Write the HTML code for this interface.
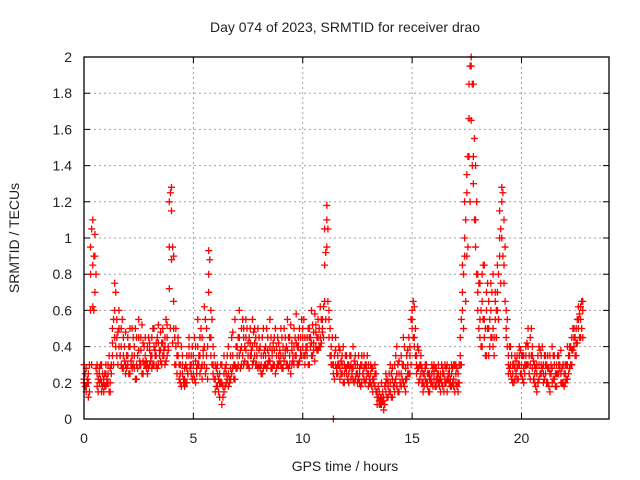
<!DOCTYPE html>
<html><head><meta charset="utf-8"><style>
html,body{margin:0;padding:0;background:#fff;}
svg{display:block;font-family:"Liberation Sans",sans-serif;}
</style></head><body>
<svg id="chart" width="640" height="480" viewBox="0 0 640 480" xmlns="http://www.w3.org/2000/svg">
<rect width="640" height="480" fill="#fff"/>
<text x="345" y="32" text-anchor="middle" font-size="14" fill="#222">Day 074 of 2023, SRMTID for receiver drao</text>
<text x="345" y="471" text-anchor="middle" font-size="14" fill="#222">GPS time / hours</text>
<text transform="translate(19,238) rotate(-90)" text-anchor="middle" font-size="14" fill="#222">SRMTID / TECUs</text>
<g id="grid"></g>
<g id="ticks"></g>
<g id="marks"></g>
<rect x="84" y="57" width="525" height="362" fill="none" stroke="#000" stroke-width="1.3"/>
</svg>
<script>
const xTicks=[0,5,10,15,20];
const yTicks=[0,0.2,0.4,0.6,0.8,1,1.2,1.4,1.6,1.8,2];
const yTickLabels=["0","0.2","0.4","0.6","0.8","1","1.2","1.4","1.6","1.8","2"];
const times=[
0,0.1,0.2,0.3,0.4,0.5,0.6,0.7,0.8,0.9,1,1.1,1.2,1.3,1.4,1.5,1.6,1.7,1.8,1.9,
2,2.1,2.2,2.3,2.4,2.5,2.6,2.7,2.8,2.9,3,3.1,3.2,3.3,3.4,3.5,3.6,3.7,3.8,3.9,
4,4.1,4.2,4.3,4.4,4.5,4.6,4.7,4.8,4.9,5,5.1,5.2,5.3,5.4,5.5,5.6,5.7,5.8,5.9,
6,6.1,6.2,6.3,6.4,6.5,6.6,6.7,6.8,6.9,7,7.1,7.2,7.3,7.4,7.5,7.6,7.7,7.8,7.9,
8,8.1,8.2,8.3,8.4,8.5,8.6,8.7,8.8,8.9,9,9.1,9.2,9.3,9.4,9.5,9.6,9.7,9.8,9.9,
10,10.1,10.2,10.3,10.4,10.5,10.6,10.7,10.8,10.9,11,11.1,11.2,11.3,11.4,11.5,11.6,11.7,11.8,11.9,
12,12.1,12.2,12.3,12.4,12.5,12.6,12.7,12.8,12.9,13,13.1,13.2,13.3,13.4,13.5,13.6,13.7,13.8,13.9,
14,14.1,14.2,14.3,14.4,14.5,14.6,14.7,14.8,14.9,15,15.1,15.2,15.3,15.4,15.5,15.6,15.7,15.8,15.9,
16,16.1,16.2,16.3,16.4,16.5,16.6,16.7,16.8,16.9,17,17.1,17.2,17.3,17.4,17.5,17.6,17.7,17.8,17.9,
18,18.1,18.2,18.3,18.4,18.5,18.6,18.7,18.8,18.9,19,19.1,19.2,19.3,19.4,19.5,19.6,19.7,19.8,19.9,
20,20.1,20.2,20.3,20.4,20.5,20.6,20.7,20.8,20.9,21,21.1,21.2,21.3,21.4,21.5,21.6,21.7,21.8,21.9,
22,22.1,22.2,22.3,22.4,22.5,22.6,22.7,22.8];
const times2=[
0.05,0.15,0.25,0.35,0.45,0.55,0.65,0.75,0.85,0.95,1.05,1.15,1.25,1.35,1.45,1.55,1.65,1.75,1.85,1.95,
2.05,2.15,2.25,2.35,2.45,2.55,2.65,2.75,2.85,2.95,3.05,3.15,3.25,3.35,3.45,3.55,3.65,3.75,3.85,3.95,
4.05,4.15,4.25,4.35,4.45,4.55,4.65,4.75,4.85,4.95,5.05,5.15,5.25,5.35,5.45,5.55,5.65,5.75,5.85,5.95,
6.05,6.15,6.25,6.35,6.45,6.55,6.65,6.75,6.85,6.95,7.05,7.15,7.25,7.35,7.45,7.55,7.65,7.75,7.85,7.95,
8.05,8.15,8.25,8.35,8.45,8.55,8.65,8.75,8.85,8.95,9.05,9.15,9.25,9.35,9.45,9.55,9.65,9.75,9.85,9.95,
10.05,10.15,10.25,10.35,10.45,10.55,10.65,10.75,10.85,10.95,11.05,11.15,11.25,11.35,11.45,11.55,11.65,11.75,11.85,11.95,
12.05,12.15,12.25,12.35,12.45,12.55,12.65,12.75,12.85,12.95,13.05,13.15,13.25,13.35,13.45,13.55,13.65,13.75,13.85,13.95,
14.05,14.15,14.25,14.35,14.45,14.55,14.65,14.75,14.85,14.95,15.05,15.15,15.25,15.35,15.45,15.55,15.65,15.75,15.85,15.95,
16.05,16.15,16.25,16.35,16.45,16.55,16.65,16.75,16.85,16.95,17.05,17.15,17.25,17.35,17.45,17.55,17.65,17.75,17.85,17.95,
18.05,18.15,18.25,18.35,18.45,18.55,18.65,18.75,18.85,18.95,19.05,19.15,19.25,19.35,19.45,19.55,19.65,19.75,19.85,19.95,
20.05,20.15,20.25,20.35,20.45,20.55,20.65,20.75,20.85,20.95,21.05,21.15,21.25,21.35,21.45,21.55,21.65,21.75,21.85,21.95,
22.05,22.15,22.25,22.35,22.45,22.55,22.65,22.75];
const srmtidA=[
0.22,0.18,0.25,0.95,1.10,1.02,0.30,0.20,0.15,0.22,0.18,0.25,0.20,0.35,0.45,0.55,0.40,0.50,0.35,0.30,
0.30,0.40,0.35,0.28,0.45,0.38,0.30,0.42,0.35,0.30,0.38,0.45,0.30,0.35,0.42,0.48,0.35,0.40,0.45,0.95,
1.28,0.65,0.40,0.35,0.30,0.25,0.22,0.28,0.35,0.30,0.25,0.32,0.40,0.35,0.45,0.30,0.28,0.93,0.60,0.40,
0.22,0.18,0.25,0.30,0.15,0.20,0.25,0.35,0.28,0.30,0.35,0.45,0.40,0.50,0.38,0.30,0.42,0.55,0.35,0.40,
0.30,0.35,0.28,0.40,0.45,0.32,0.38,0.30,0.35,0.42,0.35,0.40,0.45,0.38,0.30,0.42,0.50,0.35,0.40,0.45,
0.40,0.45,0.35,0.50,0.42,0.38,0.48,0.45,0.40,0.55,0.85,1.18,0.55,0.40,0.00,0.30,0.35,0.28,0.25,0.30,
0.25,0.30,0.22,0.28,0.35,0.25,0.20,0.30,0.28,0.22,0.25,0.20,0.28,0.18,0.15,0.10,0.08,0.12,0.15,0.20,
0.15,0.22,0.30,0.18,0.25,0.35,0.20,0.28,0.30,0.40,0.60,0.45,0.35,0.28,0.25,0.20,0.22,0.18,0.25,0.20,
0.22,0.28,0.20,0.25,0.18,0.22,0.30,0.20,0.25,0.22,0.20,0.25,0.45,0.70,0.90,1.35,1.66,2.00,1.85,1.40,
0.80,0.55,0.65,0.45,0.70,0.50,0.60,0.40,0.55,0.85,1.00,1.28,1.10,0.60,0.35,0.30,0.25,0.28,0.35,0.30,
0.25,0.35,0.40,0.30,0.45,0.28,0.20,0.25,0.30,0.35,0.30,0.25,0.20,0.35,0.28,0.22,0.30,0.35,0.25,0.20,
0.25,0.30,0.35,0.45,0.40,0.50,0.55,0.62,0.45];
const srmtidB=[
0.30,0.15,0.20,0.60,0.85,0.70,0.25,0.28,0.20,0.15,0.25,0.30,0.15,0.50,0.75,0.45,0.60,0.30,0.45,0.25,
0.45,0.25,0.50,0.40,0.30,0.55,0.45,0.25,0.30,0.40,0.30,0.35,0.50,0.42,0.30,0.38,0.50,0.45,0.35,0.72,
1.15,0.90,0.50,0.45,0.20,0.35,0.18,0.35,0.45,0.25,0.35,0.20,0.55,0.25,0.30,0.62,0.35,0.80,0.45,0.30,
0.30,0.25,0.12,0.20,0.35,0.25,0.40,0.22,0.48,0.55,0.28,0.60,0.30,0.45,0.55,0.42,0.35,0.40,0.50,0.30,
0.45,0.25,0.50,0.35,0.30,0.55,0.28,0.45,0.40,0.30,0.50,0.28,0.35,0.55,0.45,0.30,0.40,0.58,0.30,0.35,
0.50,0.35,0.45,0.30,0.60,0.48,0.40,0.55,0.62,0.50,1.05,0.95,0.45,0.30,0.25,0.45,0.25,0.38,0.30,0.20,
0.35,0.20,0.30,0.40,0.22,0.30,0.28,0.20,0.35,0.30,0.18,0.30,0.22,0.25,0.08,0.15,0.20,0.05,0.25,0.12,
0.30,0.12,0.20,0.40,0.15,0.25,0.45,0.15,0.38,0.25,0.50,0.62,0.25,0.38,0.30,0.15,0.30,0.25,0.15,0.30,
0.30,0.18,0.25,0.15,0.28,0.30,0.15,0.28,0.18,0.30,0.30,0.15,0.30,0.60,1.20,0.90,1.45,1.95,1.30,1.10,
0.60,0.75,0.40,0.85,0.35,0.65,0.45,0.80,0.70,0.60,0.90,1.20,0.75,0.45,0.25,0.40,0.20,0.35,0.22,0.40,
0.35,0.20,0.30,0.50,0.22,0.40,0.30,0.15,0.40,0.25,0.20,0.35,0.28,0.15,0.40,0.30,0.18,0.25,0.38,0.30,
0.20,0.40,0.28,0.30,0.50,0.35,0.62,0.45,0.60];
const srmtidC=[
0.20,0.28,0.12,0.80,0.62,0.90,0.18,0.25,0.30,0.20,0.30,0.20,0.28,0.42,0.60,0.35,0.50,0.40,0.28,0.48,
0.35,0.50,0.28,0.35,0.22,0.45,0.38,0.32,0.45,0.25,0.42,0.28,0.40,0.30,0.52,0.32,0.42,0.30,0.52,1.20,
0.88,0.50,0.30,0.42,0.25,0.30,0.28,0.20,0.40,0.35,0.30,0.40,0.30,0.45,0.22,0.40,0.50,0.70,0.35,0.25,
0.15,0.30,0.20,0.08,0.25,0.30,0.18,0.28,0.35,0.22,0.40,0.35,0.50,0.30,0.45,0.35,0.50,0.30,0.42,0.35,
0.38,0.30,0.35,0.30,0.38,0.40,0.35,0.38,0.28,0.35,0.30,0.35,0.38,0.30,0.35,0.38,0.30,0.42,0.45,0.38,
0.45,0.30,0.40,0.45,0.35,0.42,0.52,0.38,0.45,0.48,0.65,1.10,0.60,0.35,0.30,0.38,0.30,0.22,0.35,0.25,
0.28,0.25,0.35,0.22,0.30,0.20,0.25,0.35,0.22,0.28,0.30,0.25,0.15,0.30,0.12,0.08,0.12,0.10,0.20,0.18,
0.20,0.28,0.15,0.25,0.32,0.18,0.30,0.22,0.25,0.35,0.55,0.40,0.30,0.20,0.35,0.25,0.28,0.20,0.22,0.25,
0.25,0.22,0.30,0.22,0.25,0.20,0.22,0.25,0.30,0.18,0.25,0.20,0.35,0.85,1.00,1.25,1.85,1.65,1.45,0.95,
0.70,0.45,0.80,0.55,0.60,0.35,0.75,0.50,0.65,0.70,1.15,1.00,0.85,0.50,0.30,0.25,0.30,0.22,0.28,0.35,
0.30,0.28,0.35,0.40,0.30,0.35,0.25,0.30,0.22,0.30,0.25,0.30,0.35,0.25,0.20,0.35,0.25,0.30,0.20,0.30,
0.30,0.22,0.40,0.38,0.45,0.42,0.50,0.55,0.65];
const srmtidD=[
0.25,0.20,0.30,1.05,0.90,0.80,0.22,0.30,0.18,0.25,0.22,0.35,0.30,0.55,0.70,0.48,0.35,0.55,0.40,0.35,
0.40,0.30,0.45,0.50,0.35,0.30,0.52,0.40,0.28,0.45,0.35,0.50,0.38,0.45,0.35,0.42,0.38,0.55,0.40,1.25,
0.95,0.45,0.35,0.30,0.40,0.20,0.30,0.25,0.30,0.40,0.45,0.28,0.35,0.50,0.38,0.55,0.40,0.88,0.55,0.35,
0.28,0.22,0.30,0.18,0.28,0.35,0.22,0.45,0.30,0.40,0.45,0.38,0.55,0.40,0.50,0.45,0.38,0.48,0.45,0.50,
0.40,0.45,0.38,0.50,0.35,0.45,0.42,0.50,0.45,0.38,0.45,0.50,0.40,0.45,0.52,0.35,0.45,0.40,0.50,0.55,
0.55,0.40,0.50,0.45,0.52,0.58,0.45,0.50,0.55,0.62,0.92,1.05,0.50,0.45,0.35,0.28,0.40,0.32,0.40,0.35,
0.30,0.35,0.28,0.32,0.25,0.35,0.30,0.25,0.30,0.35,0.22,0.28,0.20,0.25,0.18,0.12,0.15,0.18,0.22,0.25,
0.25,0.18,0.35,0.30,0.20,0.30,0.40,0.35,0.45,0.55,0.65,0.50,0.40,0.30,0.28,0.25,0.30,0.25,0.20,0.28,
0.28,0.25,0.22,0.30,0.25,0.28,0.25,0.22,0.28,0.30,0.28,0.30,0.55,0.80,1.10,1.45,1.95,1.85,1.55,1.20,
0.75,0.60,0.85,0.50,0.75,0.55,0.70,0.45,0.60,0.80,1.05,1.25,0.95,0.55,0.40,0.35,0.30,0.32,0.30,0.38,
0.35,0.30,0.42,0.35,0.50,0.32,0.28,0.35,0.38,0.40,0.35,0.30,0.28,0.30,0.35,0.25,0.35,0.30,0.28,0.25,
0.30,0.35,0.40,0.50,0.45,0.55,0.58,0.65];
const srmtidE=[
0.18,0.22,0.15,0.30,0.60,0.28,0.15,0.22,0.25,0.18,0.20,0.15,0.25,0.30,0.40,0.30,0.35,0.28,0.32,0.28,
0.25,0.32,0.30,0.22,0.28,0.32,0.25,0.30,0.32,0.28,0.32,0.30,0.35,0.28,0.38,0.30,0.35,0.32,0.38,0.50,
0.42,0.30,0.25,0.22,0.18,0.22,0.20,0.25,0.28,0.22,0.22,0.25,0.30,0.28,0.35,0.25,0.22,0.45,0.30,0.22,
0.18,0.15,0.20,0.12,0.18,0.22,0.20,0.25,0.22,0.28,0.30,0.28,0.35,0.32,0.30,0.28,0.35,0.32,0.30,0.28,
0.28,0.25,0.30,0.28,0.32,0.28,0.30,0.25,0.30,0.32,0.28,0.32,0.30,0.28,0.25,0.32,0.35,0.30,0.32,0.35,
0.35,0.38,0.30,0.40,0.35,0.32,0.38,0.40,0.42,0.45,0.55,0.65,0.35,0.30,0.22,0.25,0.30,0.25,0.20,0.28,
0.22,0.28,0.25,0.20,0.25,0.22,0.18,0.25,0.20,0.25,0.20,0.18,0.22,0.15,0.12,0.08,0.10,0.08,0.12,0.15,
0.12,0.18,0.22,0.15,0.20,0.22,0.18,0.22,0.25,0.30,0.45,0.35,0.28,0.22,0.20,0.18,0.20,0.15,0.22,0.18,
0.18,0.22,0.18,0.20,0.15,0.20,0.22,0.18,0.20,0.15,0.18,0.20,0.30,0.50,0.65,0.95,1.20,1.40,1.10,0.80,
0.50,0.40,0.55,0.35,0.50,0.40,0.45,0.35,0.45,0.55,0.75,0.90,0.65,0.40,0.28,0.22,0.20,0.25,0.22,0.25,
0.22,0.25,0.30,0.25,0.35,0.22,0.18,0.20,0.25,0.28,0.22,0.20,0.18,0.25,0.22,0.18,0.25,0.28,0.20,0.18,
0.22,0.25,0.30,0.38,0.35,0.42,0.45,0.50];

const X0=84,X1=609,Y0=419,Y1=57,XMAX=24,YMAX=2;
const xs=v=>X0+(v/XMAX)*(X1-X0);
const ys=v=>Y0-(v/YMAX)*(Y0-Y1);
const NS="http://www.w3.org/2000/svg";
const grid=document.getElementById('grid'),ticks=document.getElementById('ticks'),marks=document.getElementById('marks');
function mk(tag,attrs,parent){const e=document.createElementNS(NS,tag);for(const k in attrs)e.setAttribute(k,attrs[k]);parent.appendChild(e);return e;}
xTicks.forEach(t=>{
  const x=xs(t);
  const g=mk('line',{x1:x,x2:x,y1:Y1,y2:Y0,stroke:'#a0a0a0','stroke-dasharray':'2,3','stroke-width':1},grid);
  
  
  const tk=mk('path',{d:`M${x},${Y0}v-6M${x},${Y1}v6`,stroke:'#000','stroke-width':1},ticks);
  
  
  const lb=mk('text',{x:x,y:443,'text-anchor':'middle','font-size':14,fill:'#222'},ticks);
  lb.textContent=String(t);
  
  
});
yTicks.forEach((t,i)=>{
  const y=ys(t);
  const g=mk('line',{x1:X0,x2:X1,y1:y,y2:y,stroke:'#a0a0a0','stroke-dasharray':'2,3','stroke-width':1},grid);
  
  
  const tk=mk('path',{d:`M${X0},${y}h6M${X1},${y}h-6`,stroke:'#000','stroke-width':1},ticks);
  
  
  const lb=mk('text',{x:72,y:y+5,'text-anchor':'end','font-size':14,fill:'#222'},ticks);
  lb.textContent=yTickLabels[i];
  
  
});
function plus(t,v,color){
  const x=xs(t),y=ys(v);
  const p=mk('path',{d:`M${x-3.5},${y}h7M${x},${y-3.5}v7`,stroke:color,'stroke-width':1.3},marks);
  
  
}
[srmtidA,srmtidB,srmtidC].forEach(series=>{
  times.forEach((t,i)=>{ if(series[i]!==undefined) plus(t,series[i],'#ff0000'); });
});
[srmtidD,srmtidE].forEach(series=>{
  times2.forEach((t,i)=>{ if(series[i]!==undefined) plus(t,series[i],'#ff0000'); });
});
</script>
</body></html>
